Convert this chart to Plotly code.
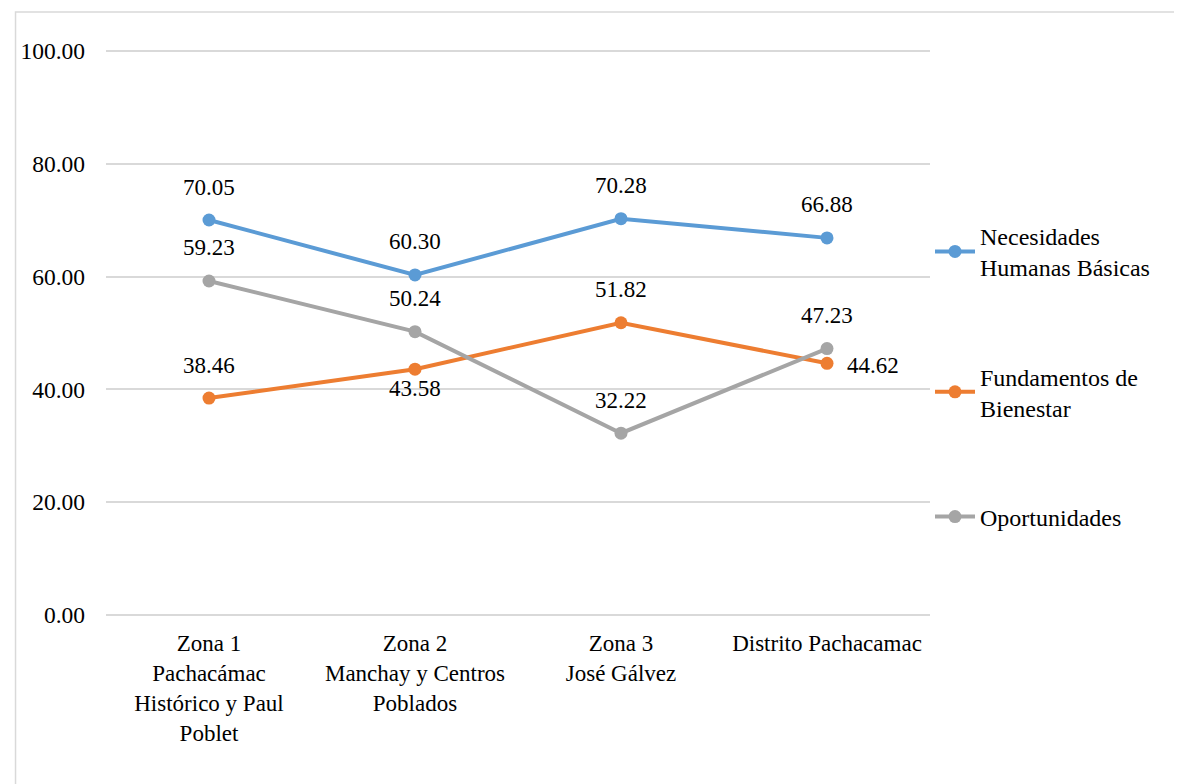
import plotly.graph_objects as go

categories = [
    "Zona 1<br>Pachacámac<br>Histórico y Paul<br>Poblet",
    "Zona 2<br>Manchay y Centros<br>Poblados",
    "Zona 3<br>José Gálvez",
    "Distrito Pachacamac",
]
necesidades = [70.05, 60.30, 70.28, 66.88]
fundamentos = [38.46, 43.58, 51.82, 44.62]
oportunidades = [59.23, 50.24, 32.22, 47.23]
y_ticks = [0, 20, 40, 60, 80, 100]

FONT = "Liberation Serif, Times New Roman, serif"
FS = 23
BLUE = "#5B9BD5"
ORANGE = "#ED7D31"
GRAY = "#A5A5A5"
GRID = "#D9D9D9"

# (name, values, colour, label offsets (dx, dy) per point)
series = [
    ("Necesidades<br>Humanas Básicas", necesidades, BLUE,
     [(0, 33), (0, 33), (0, 33), (0, 33)]),
    ("Fundamentos de<br>Bienestar", fundamentos, ORANGE,
     [(0, 33), (0, -19), (0, 33), (46, -2)]),
    ("Oportunidades", oportunidades, GRAY,
     [(0, 33), (0, 33), (0, 33), (0, 33)]),
]

fig = go.Figure()
annotations = []
for i, (name, vals, color, offs) in enumerate(series):
    fig.add_trace(go.Scatter(
        x=categories, y=vals, name=name, mode="lines+markers",
        line=dict(color=color, width=4),
        marker=dict(color=color, size=13),
        legendgroup=str(i),
    ))
    for c, v, (dx, dy) in zip(categories, vals, offs):
        annotations.append(dict(
            x=c, y=v, text=f"{v:.2f}", showarrow=False,
            xshift=dx, yshift=dy,
            font=dict(family=FONT, size=FS, color="#000000"),
        ))

# page body has an 8px margin, so the figure is sized 8px smaller
fig.update_layout(
    width=1174, height=776,
    margin=dict(l=93, r=252, t=41, b=167),
    paper_bgcolor="white", plot_bgcolor="white",
    font=dict(family=FONT, size=FS, color="#000000"),
    showlegend=True,
    legend=dict(
        x=1.0, y=0.71, xanchor="left", yanchor="top",
        traceorder="grouped", tracegroupgap=75,
        font=dict(family=FONT, size=24, color="#000000"),
        itemwidth=40, bgcolor="rgba(0,0,0,0)",
    ),
    xaxis=dict(
        range=[-0.5, 3.5],
        showgrid=False, showline=False, ticks="",
        ticklabelstandoff=10,
        tickfont=dict(family=FONT, size=23),
    ),
    yaxis=dict(
        range=[-0.4, 100.4], tickvals=y_ticks,
        ticktext=[f"{t:.2f}" for t in y_ticks],
        showgrid=True, gridcolor=GRID, gridwidth=1.5,
        zeroline=True, zerolinecolor=GRID, zerolinewidth=1.5,
        showline=False, ticks="",
        ticklabelstandoff=20,
        tickfont=dict(family=FONT, size=23.5),
    ),
    annotations=annotations,
    shapes=[dict(
        type="rect", xref="paper", yref="paper",
        x0=-0.1098, x1=1.31, y0=-0.35, y1=1.065,
        line=dict(color=GRID, width=1.5),
    )],
)

fig.write_html("out.html")
